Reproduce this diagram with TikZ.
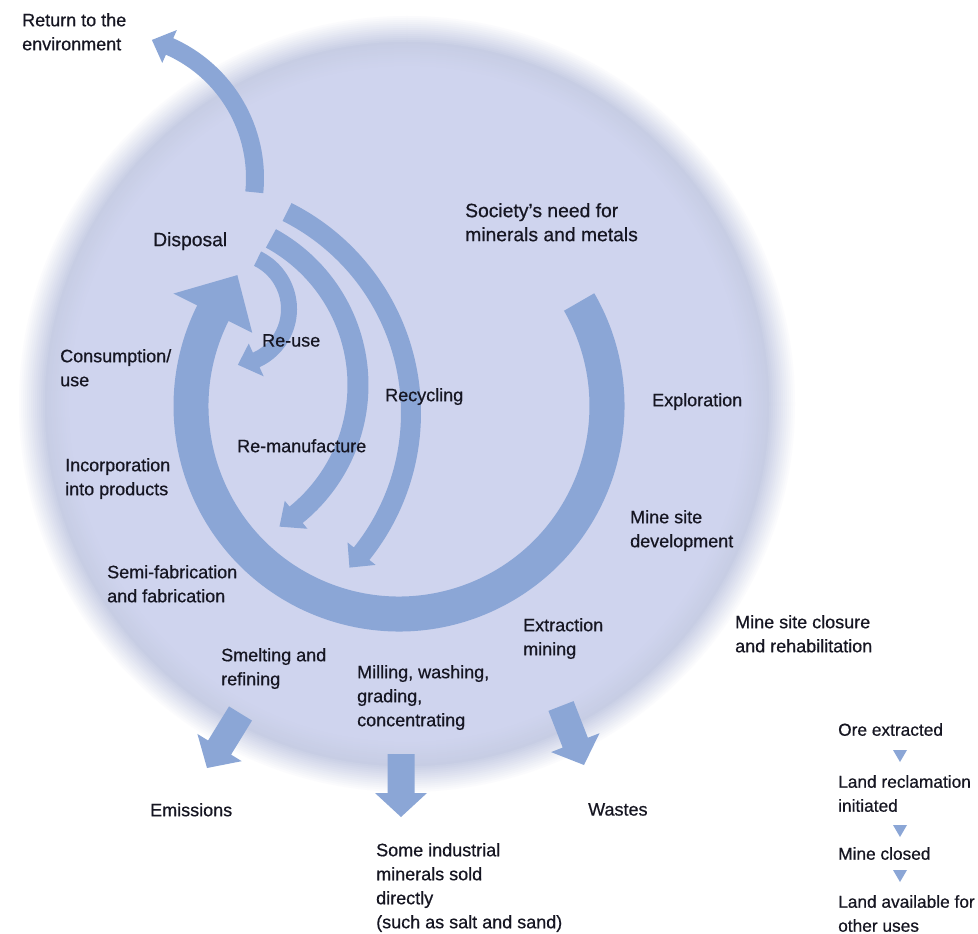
\documentclass[tikz,border=0pt]{standalone}
\usepackage{fontspec}
\setmainfont{Liberation Sans}[FakeBold=0.6]
\usetikzlibrary{calc}
\definecolor{discc}{RGB}{207,212,238}
\definecolor{discrim}{RGB}{199,205,228}
\definecolor{arrc}{RGB}{139,166,214}
\definecolor{txtc}{RGB}{22,22,34}
% curved block arrow: cx, cy, r, shaft width, start angle, head-base angle, head half width, tip angle
\newcommand\ringarrow[8]{%
  \fill[arrc,shift={(#1,#2)}] ({#5}:{#3+#4/2}) arc[start angle={#5}, end angle={#6}, radius={#3+#4/2}]
    -- ({#6}:{#3+#7}) -- ({#8}:{#3}) -- ({#6}:{#3-#7}) -- ({#6}:{#3-#4/2})
    arc[start angle={#6}, end angle={#5}, radius={#3-#4/2}] -- cycle;}
% straight block arrow between two named coordinates
\newcommand\blockarrow[2]{%
  \coordinate (#1-h) at ($(#2)!24pt!(#1)$);
  \fill[arrc] ($(#1)!13.5pt!90:(#2)$) -- ($(#1-h)!13.5pt!90:(#2)$) -- ($(#1-h)!26pt!90:(#2)$)
    -- (#2) -- ($(#1-h)!26pt!-90:(#2)$) -- ($(#1-h)!13.5pt!-90:(#2)$) -- ($(#1)!13.5pt!-90:(#2)$) -- cycle;}
\begin{document}
\begin{tikzpicture}[x=1pt,y=-1pt,
  lbl/.style={anchor=north west, inner sep=0pt, align=left, text=txtc, font=\fontsize{18}{24}\selectfont},
  biglbl/.style={lbl, font=\fontsize{19.3}{24}\selectfont},
  smlbl/.style={lbl, font=\fontsize{17.3}{24}\selectfont}]
\useasboundingbox[fill=white] (0,0) rectangle (978,934);
% background disc with soft edge
\foreach \k in {0,...,14} {
  \pgfmathsetmacro\pc{100*\k/14}
  \fill[discrim!\pc!white] (407,404) circle[radius={390-2*\k}];
}
\foreach \k in {0,...,12} {
  \pgfmathsetmacro\pc{100*\k/12}
  \fill[discc!\pc!discrim] (407,404) circle[radius={362-2*\k}];
}
% main cycle arrow
\ringarrow{399}{406}{208}{35}{-30}{206.5}{44}{219}
% return to the environment
\ringarrow{111}{178}{144}{18}{5.7}{-66}{18}{-73.5}
% re-use
\ringarrow{233}{309}{56}{16}{-64}{65.5}{18}{85}
% re-manufacture
\ringarrow{191}{385}{167}{21}{-61.4}{51}{18}{58}
% recycling
\ringarrow{186}{413}{225}{20}{-63.3}{38.7}{18}{43.4}
% output arrows
\coordinate (emisA) at (240.5,713.5); \coordinate (emisB) at (207,768);
\coordinate (millA) at (401,754);     \coordinate (millB) at (401,817);
\coordinate (wastA) at (561,706);     \coordinate (wastB) at (584,765);
\blockarrow{emisA}{emisB}
\blockarrow{millA}{millB}
\blockarrow{wastA}{wastB}
% small triangles of the closure sequence
\fill[arrc] (893,750) -- (907,750) -- (900,762) -- cycle;
\fill[arrc] (893,825) -- (907,825) -- (900,837) -- cycle;
\fill[arrc] (893,870) -- (907,870) -- (900,882) -- cycle;
% labels
\node[lbl] (ret) at (22,13) {Return to the\\environment};
\node[biglbl] (disp) at (153,232) {Disposal};
\node[biglbl] (soc) at (465,203) {Society’s need for\\minerals and metals};
\node[lbl] (cons) at (60,349) {Consumption/\\use};
\node[lbl] (reuse) at (262,334) {Re-use};
\node[lbl] (recyc) at (385,388) {Recycling};
\node[lbl] (reman) at (237,439) {Re-manufacture};
\node[lbl] (inc) at (65,458) {Incorporation\\into products};
\node[lbl] (semi) at (107,565) {Semi-fabrication\\and fabrication};
\node[lbl] (expl) at (652,393) {Exploration};
\node[lbl] (mdev) at (630,510) {Mine site\\development};
\node[lbl] (extr) at (523,618) {Extraction\\mining};
\node[lbl] (smelt) at (221,648) {Smelting and\\refining};
\node[lbl] (mill) at (357,665) {Milling, washing,\\grading,\\concentrating};
\node[lbl] (close) at (735,615) {Mine site closure\\and rehabilitation};
\node[lbl] (emis) at (150,803) {Emissions};
\node[lbl] (some) at (376,843) {Some industrial\\minerals sold\\directly\\(such as salt and sand)};
\node[lbl] (wast) at (588,803) {Wastes};
\node[smlbl] (ore) at (838,723) {Ore extracted};
\node[smlbl] (land) at (838,775) {Land reclamation\\initiated};
\node[smlbl] (mclosed) at (838,847) {Mine closed};
\node[smlbl] (avail) at (838,895) {Land available for\\other uses};
\end{tikzpicture}
\end{document}
